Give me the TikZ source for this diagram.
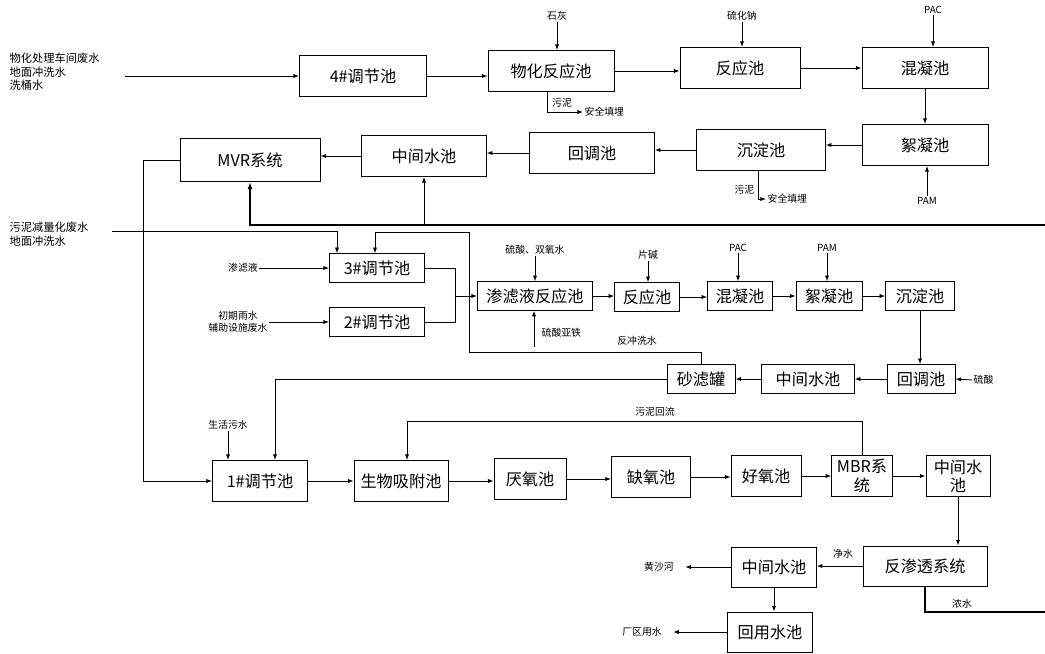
\documentclass[tikz,border=0pt]{standalone}
\usepackage{fontspec}
\setmainfont{Noto Sans CJK SC}
\usetikzlibrary{arrows.meta}

\begin{document}
\begin{tikzpicture}[x=0.025cm,y=-0.025cm,
  box/.style={draw,line width=0.6pt,inner sep=0pt,align=center,font=\fontsize{11.5}{13}\selectfont},
  big/.style={box,minimum height=1.03cm},
  small/.style={box,minimum height=0.72cm},
  lbl/.style={inner sep=1pt,align=left,font=\fontsize{7}{8.5}\selectfont},
  src/.style={inner sep=1pt,align=left,font=\fontsize{8}{9.6}\selectfont},
  pipe/.style={line width=0.6pt},
  flow/.style={pipe,-{Latex[length=4pt,width=3pt]}},
  back/.style={line width=1.1pt}]
  \useasboundingbox (0,0) rectangle (1045,653);

  % chemical line
  \node[big,minimum width=3.18cm] (p4) at (363,76) {4\#调节池};
  \node[big,minimum width=3.15cm] (wh) at (551,71) {物化反应池};
  \node[big,minimum width=3.0cm] (fy1) at (740,68) {反应池};
  \node[big,minimum width=3.15cm] (hn1) at (925,68) {混凝池};
  \node[big,minimum width=3.15cm] (xn1) at (925,145) {絮凝池};
  \node[big,minimum width=3.22cm] (cd1) at (761,150) {沉淀池};
  \node[big,minimum width=3.12cm] (ht1) at (592,153) {回调池};
  \node[big,minimum width=3.12cm] (zj1) at (424,156) {中间水池};
  \node[box,minimum width=3.5cm,minimum height=1.08cm] (mvr) at (250,160) {MVR系统};

  \node[src,anchor=west] (in1) at (8,72) {物化处理车间废水\\地面冲洗水\\洗桶水};
  \coordinate (s1) at (125,76);
  \node[lbl] (shihui) at (557,16) {石灰};
  \node[lbl] (lhn) at (742,16) {硫化钠};
  \node[lbl] (pac1) at (933,10) {PAC};
  \node[lbl] (pam1) at (927,201) {PAM};
  \node[lbl] (wn1) at (562,103) {污泥};
  \node[lbl,anchor=west] (tm1) at (583,112) {安全填埋};
  \node[lbl,anchor=east] (wn2) at (756,190) {污泥};
  \node[lbl,anchor=west] (tm2) at (766,199) {安全填埋};

  \draw[flow] (s1) -- (s1 -| p4.west);
  \draw[flow] (p4.east) -- (p4.east -| wh.west);
  \draw[flow] (shihui) -- (shihui |- wh.north);
  \draw[flow] (wh.east) -- (wh.east -| fy1.west);
  \draw[flow] (lhn) -- (lhn |- fy1.north);
  \draw[flow] (fy1.east) -- (fy1.east -| hn1.west);
  \draw[flow] (pac1) -- (pac1 |- hn1.north);
  \draw[flow] (hn1) -- (xn1);
  \draw[flow] (pam1) -- (pam1 |- xn1.south);
  \draw[flow] (xn1.west) -- (xn1.west -| cd1.east);
  \draw[flow] (cd1.west) -- (cd1.west -| ht1.east);
  \draw[flow] (ht1.west) -- (ht1.west -| zj1.east);
  \draw[flow] (zj1.west) -- (zj1.west -| mvr.east);
  \draw[flow] (wh.south -| 547,0) |- (tm1.west);
  \draw[flow] (cd1.south -| 758,0) |- (tm2.west);

  % leachate line
  \node[small,minimum width=2.38cm] (p3) at (377,268) {3\#调节池};
  \node[small,minimum width=2.38cm] (p2) at (377,322) {2\#调节池};
  \node[small,minimum width=2.88cm] (sl) at (535,296) {渗滤液反应池};
  \node[small,minimum width=1.62cm] (fy2) at (647,297) {反应池};
  \node[small,minimum width=1.62cm] (hn2) at (740,296) {混凝池};
  \node[small,minimum width=1.65cm] (xn2) at (829,296) {絮凝池};
  \node[small,minimum width=1.72cm] (cd2) at (920,296) {沉淀池};
  \node[small,minimum width=1.7cm] (ht2) at (921,379) {回调池};
  \node[small,minimum width=2.32cm] (zj2) at (808,379) {中间水池};
  \node[small,minimum width=1.7cm] (slg) at (701,379) {砂滤罐};

  \node[src,anchor=west] (in2) at (8,234) {污泥减量化废水\\地面冲洗水};
  \coordinate (s2) at (112,231);
  \node[lbl] (lch) at (243,268) {渗滤液};
  \node[lbl,align=center] (rain) at (238,322) {初期雨水\\辅助设施废水};
  \coordinate (jn) at (455,296);
  \node[lbl] (lsh) at (535,250) {硫酸、双氧水};
  \node[lbl,anchor=west] (lsf) at (540,333) {硫酸亚铁};
  \coordinate (fe) at (534,347);
  \node[lbl] (pj) at (648,255) {片碱};
  \node[lbl] (pac2) at (738,248) {PAC};
  \node[lbl] (pam2) at (827,248) {PAM};
  \node[lbl,anchor=west] (ls) at (972,380) {硫酸};
  \node[lbl] (fcx) at (637,341) {反冲洗水};

  \draw[flow] (s2) -| (p3.north -| 337,0);
  \draw[flow] (lch) -- (lch -| p3.west);
  \draw[flow] (rain) -- (rain -| p2.west);
  \draw[pipe] (p3.east) -| (jn);
  \draw[pipe] (p2.east) -| (jn);
  \draw[flow] (jn) -- (sl.west);
  \draw[flow] (lsh) -- (lsh |- sl.north);
  \draw[flow] (fe) -- (fe |- sl.south);
  \draw[flow] (sl.east) -- (sl.east -| fy2.west);
  \draw[flow] (pj) -- (pj |- fy2.north);
  \draw[flow] (fy2.east) -- (fy2.east -| hn2.west);
  \draw[flow] (pac2) -- (pac2 |- hn2.north);
  \draw[flow] (hn2.east) -- (hn2.east -| xn2.west);
  \draw[flow] (pam2) -- (pam2 |- xn2.north);
  \draw[flow] (xn2.east) -- (xn2.east -| cd2.west);
  \draw[flow] (cd2) -- (cd2 |- ht2.north);
  \draw[flow] (ls.west) -- (ht2.east);
  \draw[flow] (ht2.west) -- (ht2.west -| zj2.east);
  \draw[flow] (zj2.west) -- (zj2.west -| slg.east);
  \draw[flow] (slg.north) |- (469,352) |- (375,232) -- (p3.north -| 375,0);

  % domestic / biological line
  \node[big,minimum width=2.38cm] (p1) at (260,481) {1\#调节池};
  \node[big,minimum width=2.35cm] (sw) at (401,481) {生物吸附池};
  \node[big,minimum width=1.8cm] (yy) at (530,479) {厌氧池};
  \node[big,minimum width=1.98cm] (qy) at (651,477) {缺氧池};
  \node[big,minimum width=1.75cm] (hy) at (766,476) {好氧池};
  \node[big,minimum width=1.52cm] (mbr) at (862,476) {MBR系\\统};
  \node[big,minimum width=1.6cm] (zj3) at (958,476) {中间水\\池};
  \node[box,minimum width=3.1cm,minimum height=1.0cm] (ro) at (925,566) {反渗透系统};
  \node[box,minimum width=2.12cm,minimum height=1.0cm] (zj4) at (774,567) {中间水池};
  \node[box,minimum width=2.12cm,minimum height=1.0cm] (hys) at (770,632) {回用水池};

  \node[lbl] (shw) at (228,425) {生活污水};
  \node[lbl] (wnhl) at (655,412) {污泥回流};
  \node[lbl] (js) at (843,554) {净水};
  \node[lbl] (ns) at (962,604) {浓水};
  \node[lbl] (hsh) at (659,567) {黄沙河};
  \node[lbl] (cq) at (642,632) {厂区用水};

  \draw[flow] (slg.west) -| (p1.north -| 275,0);
  \draw[flow] (shw) -- (shw |- p1.north);
  \draw[flow] (p1) -- (sw);
  \draw[flow] (sw.east) -- (sw.east -| yy.west);
  \draw[flow] (yy.east) -- (yy.east -| qy.west);
  \draw[flow] (qy.east) -- (qy.east -| hy.west);
  \draw[flow] (hy) -- (mbr);
  \draw[flow] (mbr) -- (zj3);
  \draw[flow] (mbr.north) |- (407,421) -- (sw.north -| 407,0);
  \draw[flow] (zj3.south) -- (zj3.south |- ro.north);
  \draw[flow] (ro.west) -- (ro.west -| zj4.east);
  \draw[flow] (zj4.west) -- ([xshift=7pt]hsh.east);
  \draw[flow] (zj4.south) -- (zj4.south |- hys.north);
  \draw[flow] (hys.west) -- ([xshift=7pt]cq.east);

  % returns to MVR
  \coordinate (lft) at (143,0);
  \coordinate (rt1) at (1045,612);
  \coordinate (rt2) at (1045,225);
  \draw[flow] (mvr.west) -| (lft |- p1.west) -- (p1.west);
  \draw[back] (ro.south) |- (rt1);
  \draw[back,-{Latex[length=5pt,width=3.5pt]}] (rt2) -| (mvr.south);
  \draw[flow] (zj1.south |- rt2) -- (zj1.south);
\end{tikzpicture}
\end{document}
